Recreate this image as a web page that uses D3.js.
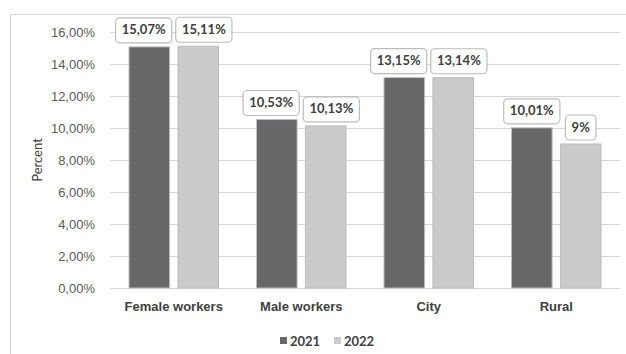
<!DOCTYPE html>
<html>
<head>
<meta charset="utf-8">
<script src="https://cdn.jsdelivr.net/npm/d3@7"></script>
<style>
  body { margin: 0; background: #fff; }
  svg { display: block; font-family: Lato, "Open Sans", sans-serif; }
</style>
</head>
<body>
<svg width="626" height="354"></svg>
<script>
var categories = ["Female workers", "Male workers", "City", "Rural"];
var years = ["2021", "2022"];
var values2021 = [15.07, 10.53, 13.15, 10.01];
var values2022 = [15.11, 10.13, 13.14, 9];
var labels2021 = ["15,07%", "10,53%", "13,15%", "10,01%"];
var labels2022 = ["15,11%", "10,13%", "13,14%", "9%"];
var yTicks = [0, 2, 4, 6, 8, 10, 12, 14, 16];

var colors = { "2021": "#67676a", "2022": "#cacaca" };

var margin = { top: 32, right: 6, bottom: 66, left: 110 },
  width = 620 - margin.left,
  height = 288 - margin.top;

var svgRoot = d3.select("svg");

// outer chart border (top + left visible)
svgRoot.append("path")
  .attr("d", "M10.5,360 L10.5,14.5 L626,14.5")
  .attr("fill", "none")
  .attr("stroke", "#d4d4d4")
  .attr("stroke-width", 1);

var svg = svgRoot.append("g")
  .attr("transform", "translate(" + margin.left + "," + margin.top + ")");

var data = categories.map(function(c, i) {
  return { category: c, values: [
    { year: "2021", value: values2021[i], label: labels2021[i] },
    { year: "2022", value: values2022[i], label: labels2022[i] }
  ] };
});

var x = d3.scaleBand()
  .range([0, width])
  .domain(categories);

var x1 = d3.scaleBand()
  .domain(years)
  .range([19, x.bandwidth() - 19])
  .paddingInner(0.17);

var y = d3.scaleLinear()
  .range([height, 0])
  .domain([0, 16]);

// gridlines
svg.append("g")
  .selectAll("line")
  .data(yTicks)
  .enter().append("line")
  .attr("x1", 0)
  .attr("x2", width)
  .attr("y1", function(d) { return Math.round(y(d)) + 0.5; })
  .attr("y2", function(d) { return Math.round(y(d)) + 0.5; })
  .attr("stroke", "#d6d6d6")
  .attr("stroke-width", 1.2);

// y tick labels
var yAxis = svg.append("g")
  .call(d3.axisLeft(y).tickValues(yTicks).tickSize(0).tickPadding(15)
    .tickFormat(function(d) { return d3.format(".2f")(d).replace(".", ",") + "%"; }));
yAxis.select(".domain").remove();
yAxis.selectAll("text")
  .attr("fill", "#595959")
  .style("font-size", "13px");

// bars
var groups = svg.selectAll(".cat")
  .data(data)
  .enter().append("g")
  .attr("class", "cat")
  .attr("transform", function(d) { return "translate(" + x(d.category) + ",0)"; });

groups.selectAll("rect")
  .data(function(d) { return d.values; })
  .enter().append("rect")
  .attr("x", function(d) { return x1(d.year); })
  .attr("y", function(d) { return y(d.value); })
  .attr("width", x1.bandwidth())
  .attr("height", function(d) { return height - y(d.value); })
  .attr("fill", function(d) { return colors[d.year]; })
  .attr("stroke", "#bdbdbd")
  .attr("stroke-width", 1);

// data labels
var lab = groups.selectAll(".lab")
  .data(function(d) { return d.values; })
  .enter().append("g")
  .attr("class", "lab");

lab.append("text")
  .attr("text-anchor", "middle")
  .attr("dy", "0.35em")
  .attr("fill", "#404040")
  .style("font-size", "13px")
  .style("font-weight", "bold")
  .text(function(d) { return d.label; });

lab.each(function(d) {
  d.w = this.querySelector("text").getBBox().width + 12;
  d.cx = x1(d.year) + x1.bandwidth() / 2;
});

// push overlapping boxes apart
groups.each(function(g) {
  var a = g.values[0], b = g.values[1];
  if (Math.abs(a.value - b.value) < 1.6) {
    var overlap = (a.cx + a.w / 2) - (b.cx - b.w / 2) + 4;
    if (overlap > 0) { a.cx -= overlap / 2; b.cx += overlap / 2; }
  }
});

lab.attr("transform", function(d) {
  return "translate(" + d.cx + "," + (y(d.value) - 17) + ")";
});

lab.insert("rect", "text")
  .attr("x", function(d) { return -d.w / 2; })
  .attr("y", -12)
  .attr("width", function(d) { return d.w; })
  .attr("height", 25)
  .attr("rx", 4)
  .attr("fill", "#fff")
  .attr("stroke", "#bcbcbc")
  .attr("stroke-width", 1.2);

// category labels
var xAxis = svg.append("g")
  .attr("transform", "translate(0," + height + ")")
  .call(d3.axisBottom(x).tickSize(0).tickPadding(14));
xAxis.select(".domain").remove();
xAxis.selectAll("text")
  .attr("fill", "#404040")
  .style("font-size", "13px")
  .style("font-weight", "bold");

// y axis title
svgRoot.append("text")
  .attr("transform", "translate(42,160) rotate(-90)")
  .attr("text-anchor", "middle")
  .attr("fill", "#404040")
  .style("font-size", "13px")
  .text("Percent");

// legend
var legend = svgRoot.selectAll(".legend")
  .data(years)
  .enter().append("g")
  .attr("class", "legend")
  .attr("transform", function(d, i) { return "translate(" + (280 + i * 54) + ",337)"; });

legend.append("rect")
  .attr("width", 7)
  .attr("height", 7)
  .attr("fill", function(d) { return colors[d]; });

legend.append("text")
  .attr("x", 10)
  .attr("y", 4)
  .attr("dy", "0.35em")
  .attr("fill", "#404040")
  .style("font-size", "13px")
  .style("font-weight", "bold")
  .text(function(d) { return d; });
</script>
</body>
</html>
